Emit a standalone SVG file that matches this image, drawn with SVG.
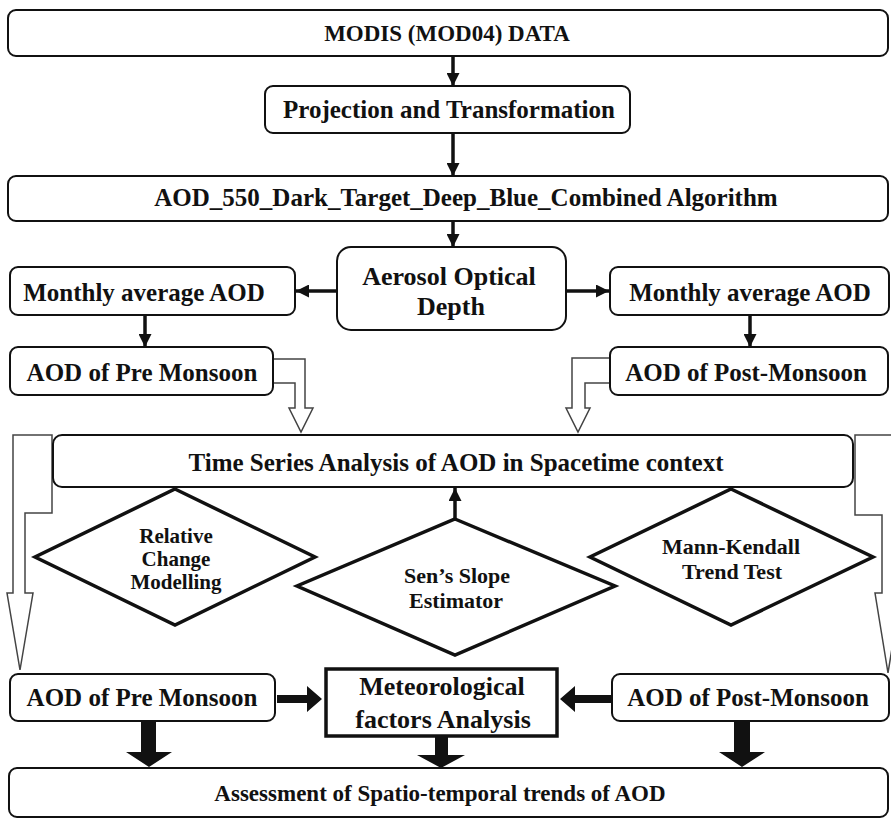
<svg xmlns="http://www.w3.org/2000/svg" width="891" height="822" viewBox="0 0 891 822">
<style>
  .box { fill: #fff; stroke: #111; stroke-width: 2; }
  .dia { fill: #fff; stroke: #111; stroke-width: 3.5; stroke-linejoin: miter; }
  .meteo { fill: #fff; stroke: #111; stroke-width: 3.5; }
  .t { font-family: "Liberation Serif", "Times New Roman", serif; font-weight: bold; fill: #111; text-anchor: middle; }
  .line { stroke: #111; stroke-width: 3.5; fill: none; }
  .hollow { fill: #fff; stroke: #444; stroke-width: 1.5; stroke-linejoin: miter; }
  .block { fill: #111; stroke: none; }
</style>
<defs>
  <marker id="ah" markerUnits="userSpaceOnUse" markerWidth="13" markerHeight="13" refX="13" refY="6.5" orient="auto">
    <path d="M0,0 L13,6.5 L0,13 z" fill="#111"/>
  </marker>
</defs>
<rect width="891" height="822" fill="#fff"/>

<g id="connectors-hollow">
  <path class="hollow" d="M13,435 H52 V513 H25 V593 H33 L20,670 L7,593 H13 Z"/>
  <path class="hollow" d="M855,435 H894 V593 H901 L888,673 L875,593 H882 V515 H855 Z"/>
  <path class="hollow" d="M273,359 H305 V408 H313 L301,432 L289,408 H295 V383 H273 Z"/>
  <path class="hollow" d="M610,358 H572 V408 H566 L578,432 L590,408 H585 V383 H610 Z"/>
</g>

<g id="n-modis">
  <rect class="box" x="8" y="10" width="880" height="46" rx="8"/>
  <text class="t" x="447" y="41" font-size="23">MODIS (MOD04) DATA</text>
</g>
<g id="n-projection">
  <rect class="box" x="265" y="86" width="365" height="47" rx="8"/>
  <text class="t" x="449" y="118" font-size="25">Projection and Transformation</text>
</g>
<g id="n-aod550">
  <rect class="box" x="8" y="176" width="880" height="45" rx="8"/>
  <text class="t" x="466" y="206" font-size="25">AOD_550_Dark_Target_Deep_Blue_Combined Algorithm</text>
</g>
<g id="n-aerosol">
  <rect class="box" x="337" y="247" width="229" height="83" rx="14"/>
  <text class="t" x="449" y="285" font-size="26">Aerosol Optical</text>
  <text class="t" x="451" y="315" font-size="26">Depth</text>
</g>
<g id="n-monthly-left">
  <rect class="box" x="10" y="267" width="285" height="48" rx="8"/>
  <text class="t" x="144" y="301" font-size="25">Monthly average AOD</text>
</g>
<g id="n-monthly-right">
  <rect class="box" x="610" y="267" width="279" height="48" rx="8"/>
  <text class="t" x="750" y="301" font-size="25">Monthly average AOD</text>
</g>
<g id="n-pre-top">
  <rect class="box" x="10" y="347" width="263" height="48" rx="8"/>
  <text class="t" x="142" y="381" font-size="25">AOD of Pre Monsoon</text>
</g>
<g id="n-post-top">
  <rect class="box" x="610" y="347" width="278" height="48" rx="8"/>
  <text class="t" x="746" y="381" font-size="25">AOD of Post-Monsoon</text>
</g>
<g id="n-timeseries">
  <rect class="box" x="53" y="435" width="800" height="52" rx="9"/>
  <text class="t" x="456" y="471" font-size="25">Time Series Analysis of AOD in Spacetime context</text>
</g>
<g id="n-relative">
  <polygon class="dia" points="175,489 315,557 175,625 35,557"/>
  <text class="t" x="176" y="543" font-size="21">Relative</text>
  <text class="t" x="176" y="566" font-size="21">Change</text>
  <text class="t" x="176" y="589" font-size="21">Modelling</text>
</g>
<g id="n-sens">
  <polygon class="dia" points="455,519 615,586 455,655 297,586"/>
  <text class="t" x="457" y="583" font-size="22">Sen’s Slope</text>
  <text class="t" x="456" y="608" font-size="22">Estimator</text>
</g>
<g id="n-mann">
  <polygon class="dia" points="731,489 873,557 731,625 590,557"/>
  <text class="t" x="731" y="554" font-size="22">Mann-Kendall</text>
  <text class="t" x="732" y="579" font-size="22">Trend Test</text>
</g>
<g id="n-pre-bottom">
  <rect class="box" x="10" y="674" width="265" height="47" rx="8"/>
  <text class="t" x="142" y="706" font-size="25">AOD of Pre Monsoon</text>
</g>
<g id="n-meteo">
  <rect class="meteo" x="326" y="669" width="231" height="67"/>
  <text class="t" x="442" y="695" font-size="26">Meteorological</text>
  <text class="t" x="443" y="728" font-size="26">factors Analysis</text>
</g>
<g id="n-post-bottom">
  <rect class="box" x="612" y="674" width="277" height="47" rx="8"/>
  <text class="t" x="748" y="706" font-size="25">AOD of Post-Monsoon</text>
</g>
<g id="n-assessment">
  <rect class="box" x="9" y="768" width="879" height="49" rx="8"/>
  <text class="t" x="440" y="801" font-size="23">Assessment of Spatio-temporal trends of AOD</text>
</g>

<g id="connectors">
  <line class="line" x1="453" y1="56" x2="453" y2="86" marker-end="url(#ah)"/>
  <line class="line" x1="453" y1="133" x2="453" y2="176" marker-end="url(#ah)"/>
  <line class="line" x1="453" y1="221" x2="453" y2="247" marker-end="url(#ah)"/>
  <line class="line" x1="337" y1="291" x2="296" y2="291" marker-end="url(#ah)"/>
  <line class="line" x1="566" y1="291" x2="609" y2="291" marker-end="url(#ah)"/>
  <line class="line" x1="145" y1="315" x2="145" y2="347" marker-end="url(#ah)"/>
  <line class="line" x1="750" y1="315" x2="750" y2="347" marker-end="url(#ah)"/>
  <line class="line" x1="455" y1="519" x2="455" y2="488" marker-end="url(#ah)"/>
  <path class="block" d="M277,695 H307 V686 L322,699 L307,712 V703 H277 Z"/>
  <path class="block" d="M611,695 H575 V686 L560,699 L575,712 V703 H611 Z"/>
  <path class="block" d="M141,722 H156 V752 H172 L149,767 L126,752 H141 Z"/>
  <path class="block" d="M435,737 H448 V755 H465 L441,768 L417,755 H435 Z"/>
  <path class="block" d="M734,722 H750 V752 H765 L742,767 L719,752 H734 Z"/>
</g>
</svg>
